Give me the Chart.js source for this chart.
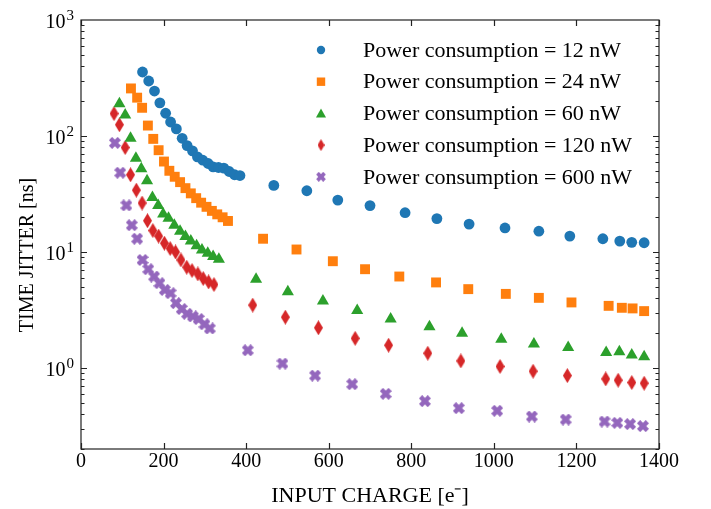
<!DOCTYPE html>
<html>
<head>
<meta charset="utf-8">
<script src="https://cdn.jsdelivr.net/npm/chart.js@4.4.1/dist/chart.umd.min.js"></script>
<style>
  body { margin: 0; background: #fff; }
  canvas { display: block; }
</style>
</head>
<body>
<canvas id="myChart" width="711" height="509"></canvas>
<script>
// values (x = input charge, y = time jitter in ns)
var labels = [
  "Power consumption = 12 nW",
  "Power consumption = 24 nW",
  "Power consumption = 60 nW",
  "Power consumption = 120 nW",
  "Power consumption = 600 nW"
];

var x12 = [149, 164, 178, 191, 205, 217, 231, 245, 257, 270, 282, 295, 308, 320, 333, 346, 359, 372, 385,
  467, 547, 622, 700, 785, 862, 940, 1027, 1109, 1184, 1264, 1305, 1334, 1364];
var y12 = [356, 298, 244, 193, 157, 132, 115, 95.5, 82.6, 74.4, 66.1, 61.8, 57.9, 54.2, 53.5, 52.8, 49.4, 46.3, 45.6,
  37.5, 33.7, 28.0, 25.1, 21.8, 19.4, 17.4, 16.1, 15.1, 13.7, 13.0, 12.4, 12.1, 12.0];

var x24 = [121, 136, 148, 162, 175, 188, 201, 214, 227, 240, 253, 266, 279, 291, 304, 317, 330, 343, 356,
  441, 522, 610, 688, 771, 860, 938, 1029, 1109, 1188, 1278, 1310, 1336, 1364];
var y24 = [257, 214, 175, 123, 94.4, 75.4, 60.2, 50.1, 44.5, 40.0, 35.5, 32.0, 29.1, 26.6, 24.5, 22.6, 21.1, 19.9, 18.5,
  13.0, 10.5, 8.32, 7.10, 6.14, 5.46, 4.78, 4.35, 4.02, 3.67, 3.43, 3.30, 3.26, 3.09];

var x60 = [93, 107, 120, 133, 146, 160, 173, 187, 199, 212, 226, 240, 253, 266, 280, 293, 307, 320, 334,
  424, 501, 586, 669, 750, 844, 923, 1018, 1097, 1180, 1272, 1304, 1334, 1364];
var y60 = [190, 152, 95.5, 64.3, 52.1, 41.1, 29.5, 25.2, 21.2, 19.5, 17.0, 15.1, 13.6, 12.4, 11.3, 10.4, 9.75, 9.13, 8.65,
  5.82, 4.53, 3.77, 3.13, 2.64, 2.27, 1.99, 1.77, 1.61, 1.50, 1.36, 1.38, 1.29, 1.25];

var x120 = [80, 93, 107, 120, 134, 148, 161, 174, 188, 202, 216, 229, 242, 256, 269, 283, 296, 309, 322,
  416, 495, 575, 664, 745, 840, 920, 1015, 1095, 1178, 1271, 1301, 1334, 1364];
var y120 = [156, 125, 79.5, 46.3, 34.1, 26.4, 18.6, 15.3, 13.7, 11.9, 10.7, 10.0, 8.54, 7.39, 6.92, 6.47, 5.90, 5.52, 5.24,
  3.48, 2.74, 2.22, 1.80, 1.57, 1.34, 1.15, 1.03, 0.937, 0.859, 0.804, 0.784, 0.748, 0.738];

var x600 = [82, 95, 110, 123, 136, 149, 163, 177, 190, 203, 217, 230, 244, 257, 271, 285, 299, 312,
  404, 488, 567, 657, 738, 833, 915, 1008, 1092, 1174, 1268, 1299, 1330, 1361];
var y600 = [87.2, 48.2, 25.2, 17.0, 13.0, 8.53, 7.10, 6.14, 5.38, 4.71, 4.41, 3.62, 3.22, 2.93, 2.78, 2.64, 2.38, 2.19,
  1.42, 1.09, 0.859, 0.724, 0.598, 0.517, 0.450, 0.427, 0.381, 0.359, 0.345, 0.336, 0.328, 0.315];

var xTicks = [0, 200, 400, 600, 800, 1000, 1200, 1400];
var yMajor = [1, 10, 100, 1000];
var yExp = ["0", "1", "2", "3"];

var colors = ["#1f77b4", "#ff7f0e", "#2ca02c", "#d62728", "#9467bd"];
var serif = "'Liberation Serif', 'Times New Roman', serif";

function pts(xs, ys) {
  var out = [];
  for (var i = 0; i < xs.length; i++) out.push({ x: xs[i], y: ys[i] });
  return out;
}

// thin diamond and filled X markers as small canvases
function diamondImg(w, h, color) {
  var c = document.createElement("canvas");
  c.width = w; c.height = h;
  var g = c.getContext("2d");
  g.fillStyle = color;
  g.beginPath();
  g.moveTo(w / 2, 0); g.lineTo(w, h / 2); g.lineTo(w / 2, h); g.lineTo(0, h / 2);
  g.closePath(); g.fill();
  return c;
}
function crossImg(size, arm, thick, color) {
  var c = document.createElement("canvas");
  c.width = size; c.height = size;
  var g = c.getContext("2d");
  g.fillStyle = color;
  g.translate(size / 2, size / 2);
  g.rotate(Math.PI / 4);
  g.fillRect(-arm / 2, -thick / 2, arm, thick);
  g.fillRect(-thick / 2, -arm / 2, thick, arm);
  return c;
}

var diamond = diamondImg(9, 15, colors[3]);
var cross = crossImg(12, 12.5, 4.6, colors[4]);
var diamondSmall = diamondImg(7, 12, colors[3]);
var crossSmall = crossImg(10, 10, 3.8, colors[4]);

var frameTicks = {
  id: "frameTicks",
  afterDraw: function (chart) {
    var ctx = chart.ctx, a = chart.chartArea;
    var xs = chart.scales.x, ys = chart.scales.y;
    ctx.save();
    ctx.strokeStyle = "#222";
    ctx.lineWidth = 1.2;
    ctx.strokeRect(a.left, a.top, a.right - a.left, a.bottom - a.top);

    ctx.beginPath();
    xTicks.forEach(function (v) {
      var px = Math.round(xs.getPixelForValue(v)) + 0.5;
      ctx.moveTo(px, a.bottom); ctx.lineTo(px, a.bottom - 6);
      ctx.moveTo(px, a.top); ctx.lineTo(px, a.top + 6);
    });
    for (var e = -1; e <= 2; e++) {
      for (var k = 1; k <= 9; k++) {
        var v = k * Math.pow(10, e);
        if (v < ys.min || v > ys.max) continue;
        var py = Math.round(ys.getPixelForValue(v)) + 0.5;
        var len = k === 1 ? 6 : 3.5;
        ctx.moveTo(a.left, py); ctx.lineTo(a.left + len, py);
        ctx.moveTo(a.right, py); ctx.lineTo(a.right - len, py);
      }
    }
    ctx.stroke();

    // y tick labels with exponents
    ctx.fillStyle = "#000";
    ctx.textBaseline = "alphabetic";
    ctx.textAlign = "left";
    yMajor.forEach(function (v, i) {
      var py = ys.getPixelForValue(v);
      ctx.font = "20px " + serif;
      var wb = ctx.measureText("10").width;
      ctx.font = "15px " + serif;
      var we = ctx.measureText(yExp[i]).width;
      var x0 = a.left - 8 - wb - we;
      ctx.font = "20px " + serif;
      ctx.fillText("10", x0, py + 8);
      ctx.font = "15px " + serif;
      ctx.fillText(yExp[i], x0 + wb + 1, py);
    });

    // y axis title
    ctx.save();
    ctx.translate(28, 255);
    ctx.rotate(-Math.PI / 2);
    ctx.font = "20px " + serif;
    ctx.textAlign = "center";
    ctx.textBaseline = "middle";
    ctx.fillText("TIME JITTER [ns]", 0, 0);
    ctx.restore();

    // legend
    var lx = 321, tx = 363, ly0 = 50, dy = 31.7;
    ctx.font = "22px " + serif;
    ctx.textAlign = "left";
    ctx.textBaseline = "middle";
    for (var i = 0; i < labels.length; i++) {
      var y = ly0 + i * dy;
      ctx.fillStyle = colors[i];
      if (i === 0) {
        ctx.beginPath(); ctx.arc(lx, y, 4.2, 0, Math.PI * 2); ctx.fill();
      } else if (i === 1) {
        ctx.fillRect(lx - 4.2, y - 4.2, 8.4, 8.4);
      } else if (i === 2) {
        ctx.beginPath(); ctx.moveTo(lx, y - 5); ctx.lineTo(lx + 5, y + 4); ctx.lineTo(lx - 5, y + 4);
        ctx.closePath(); ctx.fill();
      } else if (i === 3) {
        ctx.drawImage(diamondSmall, lx - 3.5, y - 6);
      } else {
        ctx.drawImage(crossSmall, lx - 5, y - 5);
      }
      ctx.fillStyle = "#000";
      ctx.fillText(labels[i], tx, y + 1);
    }
    ctx.restore();
  }
};

new Chart("myChart", {
  type: "scatter",
  data: {
    datasets: [
      { label: labels[0], data: pts(x12, y12), backgroundColor: colors[0], pointStyle: "circle", pointRadius: 5.4, borderWidth: 0 },
      { label: labels[1], data: pts(x24, y24), backgroundColor: colors[1], pointStyle: "rect", pointRadius: 7, borderWidth: 0 },
      { label: labels[2], data: pts(x60, y60), backgroundColor: colors[2], pointStyle: "triangle", pointRadius: 7, borderWidth: 0 },
      { label: labels[3], data: pts(x120, y120), backgroundColor: colors[3], pointStyle: diamond, borderWidth: 0 },
      { label: labels[4], data: pts(x600, y600), backgroundColor: colors[4], pointStyle: cross, borderWidth: 0 }
    ]
  },
  options: {
    responsive: false,
    animation: false,
    devicePixelRatio: 1,
    layout: { padding: { left: 0, right: 52, top: 20, bottom: 0 } },
    plugins: { legend: { display: false }, tooltip: { enabled: false } },
    scales: {
      x: {
        type: "linear",
        min: 0,
        max: 1400,
        grid: { display: false, drawTicks: false },
        border: { display: false },
        afterBuildTicks: function (s) { s.ticks = xTicks.map(function (v) { return { value: v }; }); },
        ticks: {
          font: { family: serif, size: 20 }, color: "#000", padding: 1, maxRotation: 0,
          callback: function (v) { return String(v); }
        },
        title: { display: true, text: "INPUT CHARGE [e\u207B]", font: { family: serif, size: 22 }, color: "#000", padding: { top: 0, bottom: 0 } },
        afterFit: function (s) { s.height = 60; }
      },
      y: {
        type: "logarithmic",
        min: 0.2,
        max: 1000,
        grid: { display: false, drawTicks: false },
        border: { display: false },
        ticks: { display: false },
        afterFit: function (s) { s.width = 81; }
      }
    }
  },
  plugins: [frameTicks]
});
</script>
</body>
</html>
